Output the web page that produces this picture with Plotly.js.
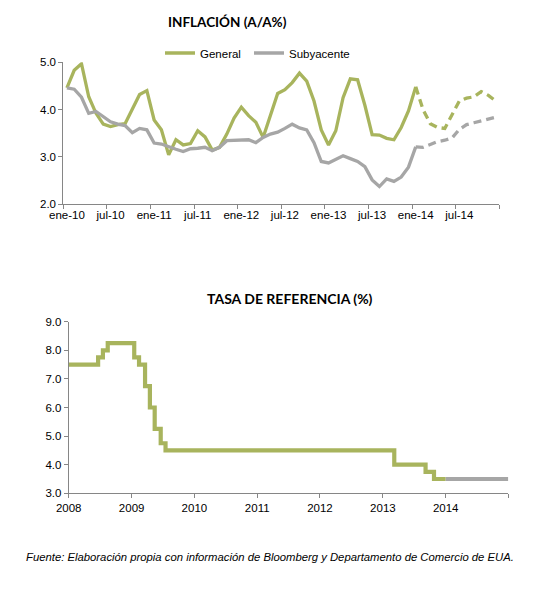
<!DOCTYPE html>
<html>
<head>
<meta charset="utf-8">
<script src="https://cdn.plot.ly/plotly-3.0.1.min.js"></script>
<style>
  html, body { margin: 0; padding: 0; background: #ffffff; }
  #chart { width: 549px; height: 589px; }
</style>
</head>
<body>
<div id="chart"></div>
<script>
// Month labels (ene-10 ... dic-14), built from month abbreviations and years
const monthNames = ['ene', 'feb', 'mar', 'abr', 'may', 'jun', 'jul', 'ago', 'sep', 'oct', 'nov', 'dic'];
const years = ['10', '11', '12', '13', '14'];
const months = [];
years.forEach(y => monthNames.forEach(m => months.push(m + '-' + y)));

// Annual inflation, observed (ene-10 ... ene-14)
const generalObs = [
  4.46, 4.83, 4.97, 4.27, 3.92, 3.69, 3.64, 3.68, 3.70, 4.02, 4.32, 4.40,
  3.78, 3.57, 3.04, 3.36, 3.25, 3.28, 3.55, 3.42, 3.14, 3.20, 3.48, 3.82,
  4.05, 3.87, 3.73, 3.41, 3.85, 4.34, 4.42, 4.57, 4.77, 4.60, 4.18, 3.57,
  3.25, 3.55, 4.25, 4.65, 4.63, 4.09, 3.47, 3.46, 3.39, 3.36, 3.62, 3.97,
  4.48
];
const subyacenteObs = [
  4.46, 4.43, 4.26, 3.92, 3.96, 3.85, 3.74, 3.69, 3.66, 3.51, 3.60, 3.57,
  3.29, 3.27, 3.21, 3.16, 3.11, 3.17, 3.18, 3.20, 3.13, 3.20, 3.34, 3.35,
  3.35, 3.36, 3.30, 3.41, 3.48, 3.52, 3.60, 3.69, 3.61, 3.57, 3.30, 2.90,
  2.87, 2.95, 3.02, 2.96, 2.90, 2.79, 2.51, 2.37, 2.53, 2.48, 2.57, 2.78,
  3.21
];
// Forecast path (ene-14 ... dic-14)
const generalFcst = [4.48, 4.00, 3.70, 3.62, 3.60, 3.90, 4.18, 4.24, 4.27, 4.38, 4.30, 4.18];
const subyacenteFcst = [3.21, 3.20, 3.26, 3.32, 3.35, 3.40, 3.58, 3.68, 3.72, 3.76, 3.80, 3.84];

// Reference rate decisions (date of change, new level)
const rateDates = ['2008-01-01', '2008-06-20', '2008-07-18', '2008-08-15', '2009-01-16', '2009-02-13',
                   '2009-03-20', '2009-04-17', '2009-05-15', '2009-06-19', '2009-07-17',
                   '2013-03-08', '2013-09-06', '2013-10-25', '2014-01-01'];
const rateValues = [7.50, 7.75, 8.00, 8.25, 7.75, 7.50, 6.75, 6.00, 5.25, 4.75, 4.50, 4.00, 3.75, 3.50, 3.50];
const rateFcstDates = ['2014-01-01', '2014-12-31'];
const rateFcstValues = [3.50, 3.50];

const yearTicks = ['2008-01-01', '2009-01-01', '2010-01-01', '2011-01-01', '2012-01-01', '2013-01-01', '2014-01-01', '2014-12-31'];
const yearLabels = ['2008', '2009', '2010', '2011', '2012', '2013', '2014', ''];

const GREEN = '#A8B45D';
const GRAY = '#A6A6A6';
const AXIS = '#868686';
const TXT = '#000000';
const SANS = 'Arial, "Liberation Sans", sans-serif';
const tickFont = { family: SANS, size: 11.5, color: TXT };

const nObs = generalObs.length;
const obsMonths = months.slice(0, nObs);
const fcstMonths = months.slice(nObs - 1, nObs - 1 + generalFcst.length);

const traces = [
  { x: obsMonths, y: generalObs, type: 'scatter', mode: 'lines', name: 'General', legend: 'legend',
    line: { color: GREEN, width: 3.3 }, xaxis: 'x', yaxis: 'y' },
  { x: obsMonths, y: subyacenteObs, type: 'scatter', mode: 'lines', name: 'Subyacente', legend: 'legend2',
    line: { color: GRAY, width: 3.3 }, xaxis: 'x', yaxis: 'y' },
  { x: fcstMonths, y: generalFcst, type: 'scatter', mode: 'lines', showlegend: false,
    line: { color: GREEN, width: 3.3, dash: '8px,5px' }, xaxis: 'x', yaxis: 'y' },
  { x: fcstMonths, y: subyacenteFcst, type: 'scatter', mode: 'lines', showlegend: false,
    line: { color: GRAY, width: 3.3, dash: '8px,5px' }, xaxis: 'x', yaxis: 'y' },
  { x: rateDates, y: rateValues, type: 'scatter', mode: 'lines', showlegend: false,
    line: { color: GREEN, width: 4.2, shape: 'hv' }, xaxis: 'x2', yaxis: 'y2' },
  { x: rateFcstDates, y: rateFcstValues, type: 'scatter', mode: 'lines', showlegend: false,
    line: { color: GRAY, width: 4.2, shape: 'hv' }, xaxis: 'x2', yaxis: 'y2' }
];

const W = 549, H = 589;
const px = v => v / W;
const py = v => 1 - v / H;

const legendStyle = x => ({
  orientation: 'h', x: px(x), xanchor: 'left', y: py(53), yanchor: 'middle',
  font: { family: SANS, size: 11.5, color: TXT },
  bgcolor: 'rgba(0,0,0,0)', borderwidth: 0
});

const layout = {
  width: W, height: H,
  margin: { l: 0, r: 0, t: 0, b: 0 },
  paper_bgcolor: '#ffffff', plot_bgcolor: '#ffffff',
  showlegend: true,
  legend: legendStyle(160),
  legend2: legendStyle(249),
  xaxis: {
    type: 'category', domain: [px(63.3), px(499.3)], anchor: 'y',
    range: [-0.5, 59.5], tickmode: 'linear', tick0: 0, dtick: 6, tickson: 'boundaries',
    tickangle: 0, ticks: 'outside', ticklen: 4, tickcolor: AXIS, tickwidth: 1,
    showline: true, linecolor: AXIS, linewidth: 1, showgrid: false, zeroline: false,
    tickfont: tickFont, fixedrange: true
  },
  yaxis: {
    domain: [py(204), py(62.3)], anchor: 'x', range: [2, 5], dtick: 1, tickformat: '.1f',
    ticks: 'outside', ticklen: 4, tickcolor: AXIS, tickwidth: 1,
    showline: true, linecolor: AXIS, linewidth: 1, showgrid: false, zeroline: false,
    tickfont: tickFont, fixedrange: true
  },
  xaxis2: {
    type: 'date', domain: [px(68.7), px(508.3)], anchor: 'y2',
    range: ['2008-01-01', '2014-12-31'], tickmode: 'array', tickvals: yearTicks, ticktext: yearLabels,
    tickangle: 0, ticks: 'outside', ticklen: 4, tickcolor: AXIS, tickwidth: 1,
    showline: true, linecolor: AXIS, linewidth: 1, showgrid: false, zeroline: false,
    tickfont: tickFont, fixedrange: true
  },
  yaxis2: {
    domain: [py(493.3), py(321.7)], anchor: 'x2', range: [3, 9], dtick: 1, tickformat: '.1f',
    ticks: 'outside', ticklen: 4, tickcolor: AXIS, tickwidth: 1,
    showline: true, linecolor: AXIS, linewidth: 1, showgrid: false, zeroline: false,
    tickfont: tickFont, fixedrange: true
  },
  annotations: [
    { text: '<b>INFLACIÓN (A/A%)</b>', xref: 'paper', yref: 'paper', x: px(227), y: py(22),
      xanchor: 'center', yanchor: 'middle', showarrow: false,
      font: { family: 'Lato, sans-serif', size: 13.5, color: TXT } },
    { text: '<b>TASA DE REFERENCIA (%)</b>', xref: 'paper', yref: 'paper', x: px(290), y: py(298),
      xanchor: 'center', yanchor: 'middle', showarrow: false,
      font: { family: 'Lato, sans-serif', size: 14, color: TXT } },
    { text: '<i>Fuente: Elaboración propia con información de Bloomberg y Departamento de Comercio de EUA.</i>',
      xref: 'paper', yref: 'paper', x: px(270), y: py(557),
      xanchor: 'center', yanchor: 'middle', showarrow: false,
      font: { family: SANS, size: 11.3, color: TXT } }
  ]
};

Plotly.newPlot('chart', traces, layout, { displayModeBar: false, staticPlot: true });
</script>
</body>
</html>
